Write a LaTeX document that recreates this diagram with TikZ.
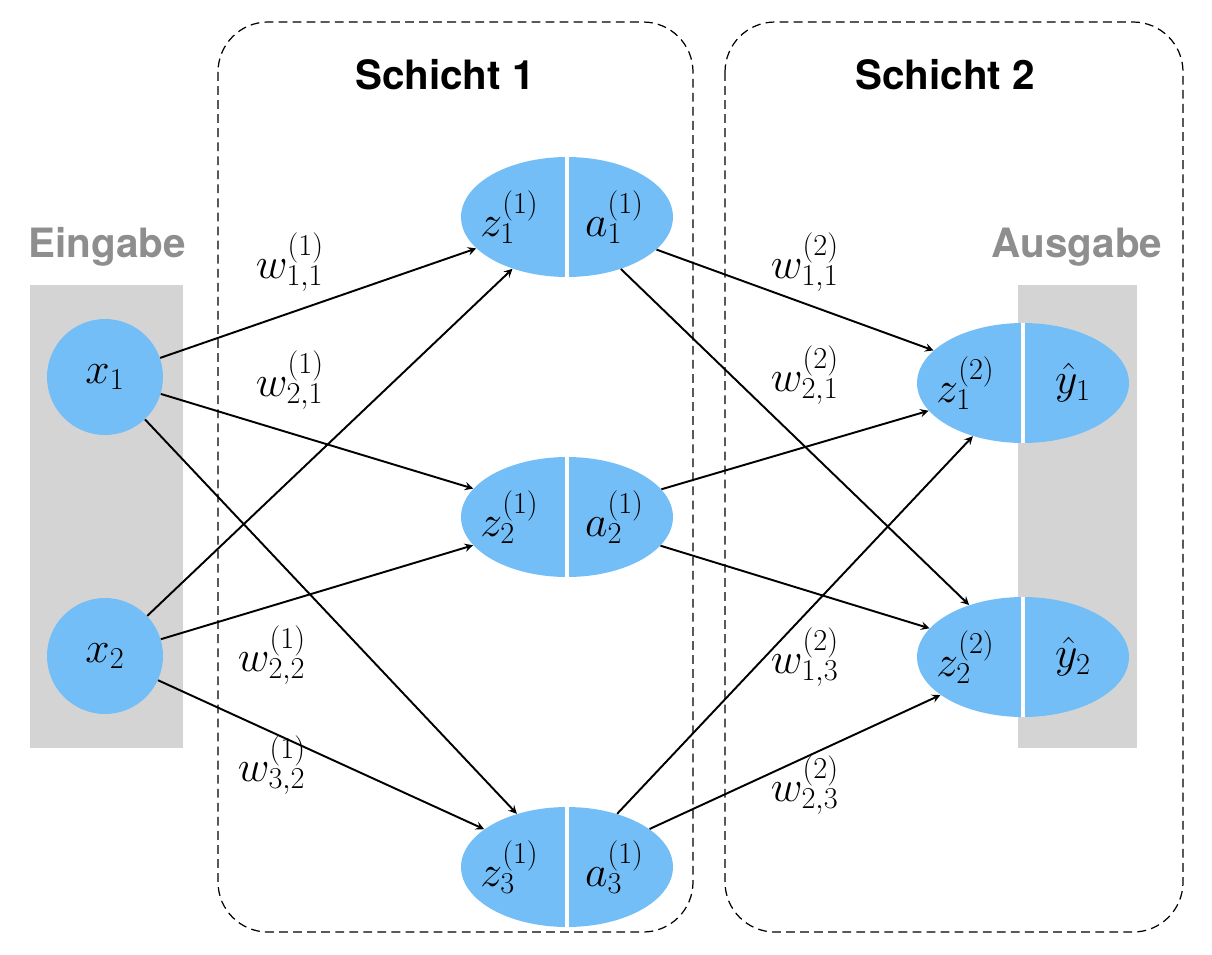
\documentclass[tikz,border=0pt]{standalone}
\usepackage{fontspec}
\newfontfamily\headfont{TeX Gyre Heros}
\usetikzlibrary{shapes.geometric}
\definecolor{neuron}{HTML}{74BEF8}
\definecolor{panel}{HTML}{D4D4D4}
\definecolor{paneltext}{HTML}{8E8E8E}
\tikzset{
  inp/.style={circle, fill=neuron, minimum size=2.32cm, inner sep=0pt},
  unit/.style={ellipse, fill=neuron, minimum width=4.24cm, minimum height=2.4cm, inner sep=0pt},
  layer/.style={draw, line width=0.7pt, dash pattern=on 5pt off 3pt, rounded corners=1cm},
  conn/.style={->, >=stealth, line width=1.1pt},
  wlab/.style={font=\fontsize{23}{26}\selectfont},
  head/.style={font=\headfont\bfseries\fontsize{23}{26}\selectfont},
}
\begin{document}
\begin{tikzpicture}[x=0.02cm, y=-0.02cm]
\useasboundingbox (0,0) rectangle (1212,954);
% panels and layers
\fill[panel] (30,285) rectangle (183,748);
\fill[panel] (1018,285) rectangle (1137,748);
\draw[layer] (218,22) rectangle (693,932);
\draw[layer] (725,22) rectangle (1183,932);
\node[head] (s1) at (445,75) {Schicht 1};
\node[head] (s2) at (945,75) {Schicht 2};
\node[head, text=paneltext] (ein) at (107,247) {Eingabe};
\node[head, text=paneltext] (aus) at (1077,247) {Ausgabe};
% neurons
\node[inp] (x1) at (105,377) {};
\node[inp] (x2) at (105,656) {};
\node[unit] (h1) at (567,217) {};
\node[unit] (h2) at (567,517) {};
\node[unit] (h3) at (567,867) {};
\node[unit] (o1) at (1023,383) {};
\node[unit] (o2) at (1023,657) {};
\foreach \n in {h1,h2,h3,o1,o2}
  \draw[white, line width=2.5pt] (\n.north) -- (\n.south);
\begin{scope}[every node/.style={font=\fontsize{25}{28}\selectfont}]
\node at (x1) {$x_1$};
\node at (x2) {$x_2$};
\foreach \n/\i in {h1/1,h2/2,h3/3} {
  \node at ([xshift=-1.15cm]\n.center) {$z^{(1)}_{\i}$};
  \node at ([xshift=0.95cm]\n.center) {$a^{(1)}_{\i}$};
}
\foreach \n/\i in {o1/1,o2/2} {
  \node at ([xshift=-1.15cm]\n.center) {$z^{(2)}_{\i}$};
  \node at ([xshift=1.0cm]\n.center) {$\hat{y}_{\i}$};
}
\end{scope}
% connections
\foreach \a/\b in {x1/h1,x1/h2,x1/h3,x2/h1,x2/h2,x2/h3,h1/o1,h1/o2,h2/o1,h2/o2,h3/o1,h3/o2}
  \draw[conn] (\a) -- (\b);
% weights
\node[wlab] (w111) at (290,262) {$w^{(1)}_{1,1}$};
\node[wlab] (w121) at (290,380) {$w^{(1)}_{2,1}$};
\node[wlab] (w122) at (272,655) {$w^{(1)}_{2,2}$};
\node[wlab] (w132) at (272,765) {$w^{(1)}_{3,2}$};
\node[wlab] (w211) at (805,262) {$w^{(2)}_{1,1}$};
\node[wlab] (w221) at (805,375) {$w^{(2)}_{2,1}$};
\node[wlab] (w213) at (805,657) {$w^{(2)}_{1,3}$};
\node[wlab] (w223) at (805,785) {$w^{(2)}_{2,3}$};
\end{tikzpicture}
\end{document}
